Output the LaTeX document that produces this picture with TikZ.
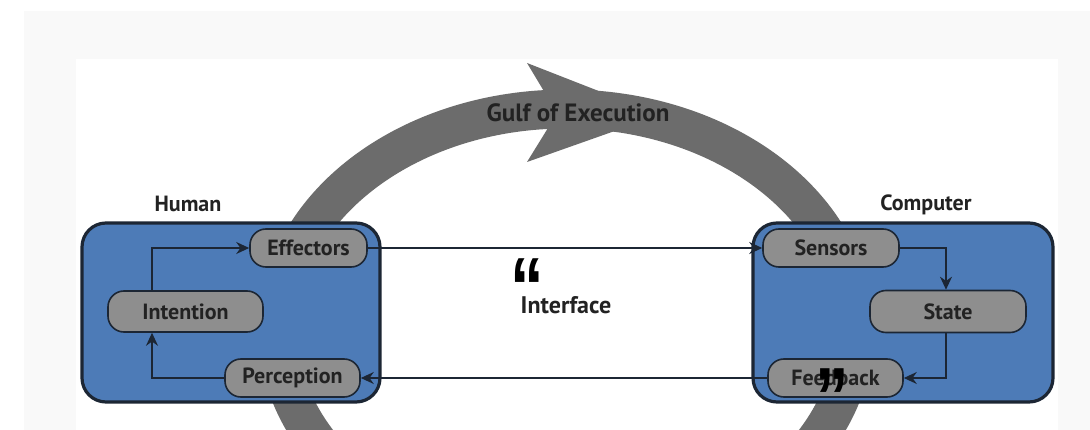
\documentclass[tikz,border=0pt]{standalone}
\usepackage{fontspec}
\setmainfont{PT Sans}
\newfontfamily\qfont{Liberation Sans}
\usetikzlibrary{arrows.meta}
\definecolor{bluefill}{RGB}{77,123,183}
\definecolor{pillgray}{RGB}{142,142,142}
\definecolor{ringgray}{RGB}{108,108,108}
\definecolor{edgec}{RGB}{28,38,52}
\definecolor{panelgray}{RGB}{249,249,249}
\definecolor{txt}{RGB}{34,34,34}
\newcommand{\qglyph}[1]{\scalebox{0.8}[1]{\raisebox{-0.46em}[0.28em][0pt]{#1}}}
\begin{document}
\begin{tikzpicture}[x=1pt,y=-1pt,
  bigbox/.style={draw=edgec, line width=3.2pt, fill=bluefill, rounded corners=24pt, inner sep=0pt},
  pill/.style={draw=edgec, line width=1.6pt, fill=pillgray, rounded corners=16pt,
    font=\bfseries\fontsize{22}{24}\selectfont, text=txt, inner sep=0pt},
  conn/.style={draw=edgec, line width=1.4pt, -{Stealth[length=13pt,width=12pt]}},
  lbl/.style={font=\bfseries\fontsize{22}{24}\selectfont, text=txt},
  quote/.style={font=\qfont\bfseries\fontsize{84}{84}\selectfont, text=black, inner sep=0pt, anchor=north}
]
\useasboundingbox (0,0) rectangle (1090,430);
\fill[white] (0,0) rectangle (1090,430);
\fill[panelgray] (24,11) rectangle (1090,430);
\fill[white] (76,59) rectangle (1058,430);

\begin{scope}
  \clip (0,0) rectangle (1090,430);
  \draw[ringgray, line width=39pt] (566,330) ellipse [x radius=288, y radius=221];
  \fill[ringgray] (527,63) -- (660,115) -- (527,162) -- (548,128) -- (545,93) -- cycle;
\end{scope}
\node[font=\bfseries\fontsize{25}{27}\selectfont, text=txt] (gulf) at (578,113) {Gulf of Execution};

\node[bigbox, minimum width=298pt, minimum height=179pt] (human) at (231,312.5) {};
\node[bigbox, minimum width=300pt, minimum height=179pt] (computer) at (903,312.5) {};

\node[lbl] (humanlbl) at (188,204) {Human};
\node[lbl] (complbl) at (926,205) {Computer};
\node[lbl, font=\bfseries\fontsize{24}{26}\selectfont] (iface) at (566,305) {Interface};

\node[pill, minimum width=117pt, minimum height=38pt] (eff) at (308.5,248) {Effectors};
\node[pill, minimum width=155pt, minimum height=41pt] (int) at (185.5,311.5) {Intention};
\node[pill, minimum width=135pt, minimum height=38pt] (per) at (292.5,378) {Perception};
\node[pill, minimum width=136pt, minimum height=38pt] (sen) at (831,248) {Sensors};
\node[pill, minimum width=156pt, minimum height=42pt] (sta) at (948,311.5) {State};
\node[pill, minimum width=135pt, minimum height=38pt] (fee) at (835.5,378) {Feedback};

\coordinate (a1) at (152,0);
\coordinate (a2) at (946,0);
\draw[conn] (int.north -| a1) |- (eff.west);
\draw[conn] (per.west) -| (int.south -| a1);
\draw[conn] (eff.east) -- (sen.west);
\draw[conn] (sen.east) -| (sta.north -| a2);
\draw[conn] (sta.south -| a2) |- (fee.east);
\draw[conn] (fee.west) -- (per.east);

\node[quote] (q1) at (527,254) {\qglyph{“}};
\node[quote] (q2) at (832,364) {\qglyph{”}};
\end{tikzpicture}
\end{document}
